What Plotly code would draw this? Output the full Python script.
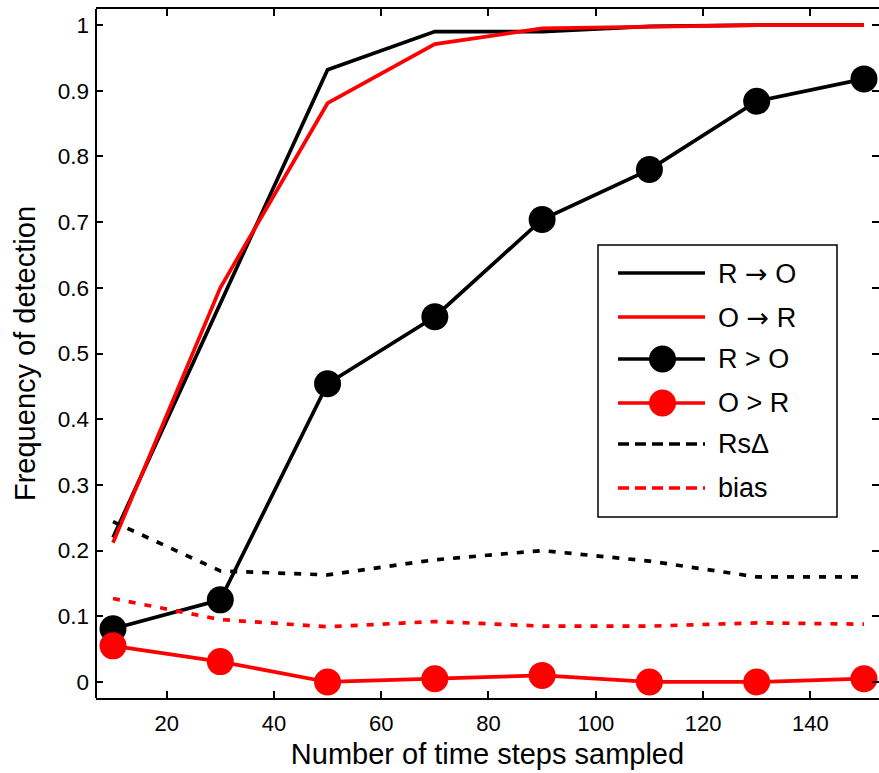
import plotly.graph_objects as go

# ---- data ----
x_steps = [10, 30, 50, 70, 90, 110, 130, 150]
r_to_o = [0.22, 0.575, 0.932, 0.99, 0.99, 0.998, 1.0, 1.0]
o_to_r = [0.212, 0.60, 0.881, 0.971, 0.995, 0.997, 1.0, 1.0]
r_gt_o = [0.081, 0.125, 0.454, 0.556, 0.704, 0.78, 0.884, 0.918]
o_gt_r = [0.055, 0.031, 0.0, 0.005, 0.01, 0.0, 0.0, 0.005]
rs_delta = [0.244, 0.169, 0.163, 0.186, 0.2, 0.184, 0.16, 0.16]
bias = [0.127, 0.095, 0.084, 0.092, 0.085, 0.085, 0.09, 0.088]

x_ticks = [20, 40, 60, 80, 100, 120, 140]
y_ticks = [0, 0.1, 0.2, 0.3, 0.4, 0.5, 0.6, 0.7, 0.8, 0.9, 1]
y_ticktext = ["0", "0.1", "0.2", "0.3", "0.4", "0.5", "0.6", "0.7", "0.8", "0.9", "1"]

ARROW = '<span style="font-family:DejaVu Sans">\u2192</span>'
legend_names = ["R \u2192 O", "O \u2192 R", "R > O", "O > R", "Rs\u0394", "bias"]
legend_labels = ["R " + ARROW + " O", "O " + ARROW + " R", "R > O", "O > R", "Rs\u0394", "bias"]

BLACK = "#000000"
RED = "#ff0000"
FONT = "Liberation Sans, Arial, Helvetica, sans-serif"
DASH = "7px,9px"
LW = 3.7

W, H = 879, 773
ML, MR, MT, MB = 96, 0, 9, 75
PW, PH = W - ML - MR, H - MT - MB

def px(xp):
    return (xp - ML) / PW

def py(yp):
    return (H - MB - yp) / PH

fig = go.Figure()
series = [
    (r_to_o, BLACK, "solid", False),
    (o_to_r, RED, "solid", False),
    (r_gt_o, BLACK, "solid", True),
    (o_gt_r, RED, "solid", True),
    (rs_delta, BLACK, DASH, False),
    (bias, RED, DASH, False),
]
for (ys, col, dash, mk), name in zip(series, legend_names):
    fig.add_trace(go.Scatter(
        x=x_steps, y=ys, name=name,
        mode="lines+markers" if mk else "lines",
        line=dict(color=col, width=LW, dash=dash),
        marker=dict(size=27, color=col) if mk else None,
        showlegend=False,
    ))

shapes = []
annotations = []
# left axis line
shapes.append(dict(type="line", xref="paper", yref="paper", x0=0, x1=0, y0=0, y1=1,
                   line=dict(color=BLACK, width=2)))
# legend box
shapes.append(dict(type="rect", xref="paper", yref="paper",
                   x0=px(598), x1=px(837), y0=py(517), y1=py(245),
                   line=dict(color=BLACK, width=1.5), fillcolor="white", layer="above"))
rows = [273, 317, 359, 403, 444, 488]
styles = [(BLACK, "solid", False), (RED, "solid", False), (BLACK, "solid", True),
          (RED, "solid", True), (BLACK, "11px,6px", False), (RED, "11px,6px", False)]
for ry, (col, dash, mk), label in zip(rows, styles, legend_labels):
    shapes.append(dict(type="line", xref="paper", yref="paper",
                       x0=px(618), x1=px(705), y0=py(ry), y1=py(ry),
                       line=dict(color=col, width=LW, dash=dash), layer="above"))
    if mk:
        r = 13.5
        shapes.append(dict(type="circle", xref="paper", yref="paper",
                           x0=px(662.5 - r), x1=px(662.5 + r), y0=py(ry + r), y1=py(ry - r),
                           line=dict(color=col, width=0), fillcolor=col, layer="above"))
    annotations.append(dict(xref="paper", yref="paper", x=px(716), y=py(ry),
                            xanchor="left", yanchor="middle", text=label, showarrow=False,
                            font=dict(size=27, color=BLACK, family=FONT)))

fig.update_layout(
    width=W, height=H,
    margin=dict(l=ML, r=MR, t=MT, b=MB, pad=0),
    paper_bgcolor="white", plot_bgcolor="white",
    font=dict(family=FONT, color=BLACK),
    showlegend=False,
    shapes=shapes, annotations=annotations,
    xaxis=dict(
        range=[6.83, 152.8], tickvals=x_ticks,
        showgrid=False, zeroline=False,
        showline=True, mirror="ticks", linecolor=BLACK, linewidth=2,
        ticks="inside", ticklen=7, tickwidth=1.5, tickcolor=BLACK,
        tickfont=dict(size=22, family=FONT, color=BLACK), ticklabelstandoff=5,
        title=dict(text="Number of time steps sampled", font=dict(size=29, family=FONT), standoff=8),
    ),
    yaxis=dict(
        range=[-0.0244, 1.0244], tickvals=y_ticks, ticktext=y_ticktext,
        showgrid=False, zeroline=False,
        showline=False, mirror="ticks", linecolor=BLACK,
        ticks="inside", ticklen=7, tickwidth=1.5, tickcolor=BLACK,
        tickfont=dict(size=22.5, family=FONT, color=BLACK), ticklabelstandoff=6,
        title=dict(text="Frequency of detection", font=dict(size=29, family=FONT), standoff=13),
    ),
)

fig.write_html("out.html")
